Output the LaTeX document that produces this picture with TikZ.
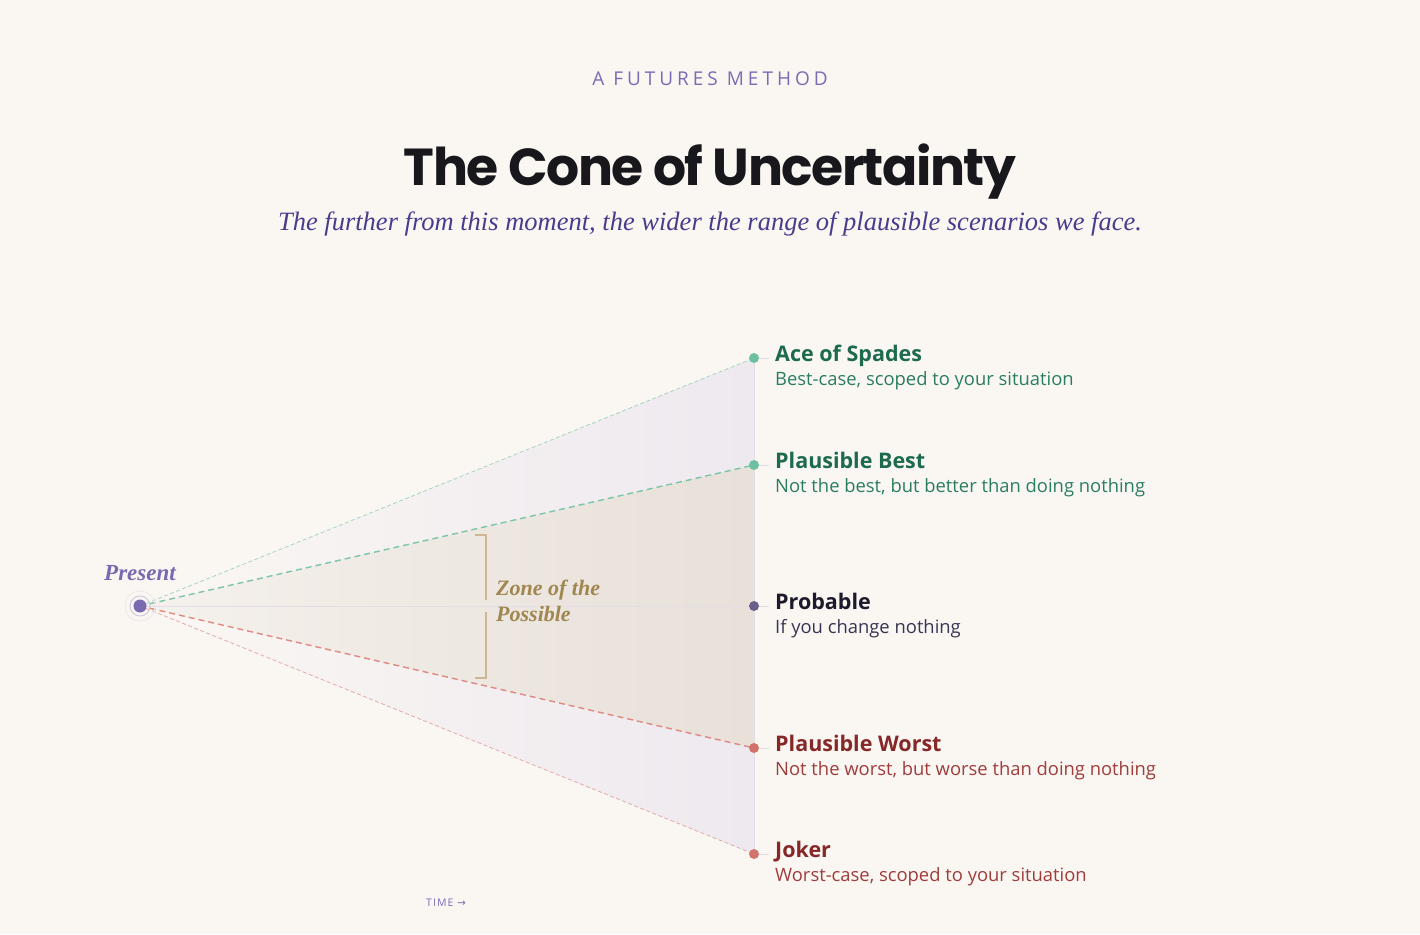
\documentclass[tikz,border=0pt]{standalone}
\usepackage{fontspec}
\setmainfont{Liberation Serif}
\setsansfont{Open Sans}
\newfontfamily\headfont{Poppins}
\newfontfamily\symfont{DejaVu Sans}
\usetikzlibrary{positioning}

\definecolor{bg}{HTML}{FAF7F3}
\definecolor{kicker}{HTML}{7B6BB5}
\definecolor{headink}{HTML}{18181C}
\definecolor{leadink}{HTML}{4A3C8C}
\definecolor{outercone}{HTML}{EEE9EF}
\definecolor{innerleft}{HTML}{F5F1EC}
\definecolor{innercone}{HTML}{E8E0D9}
\definecolor{spineline}{HTML}{E2DDE6}
\definecolor{greenfaint}{HTML}{A9D3C3}
\definecolor{greendash}{HTML}{7CC4AA}
\definecolor{redfaint}{HTML}{E2AAAA}
\definecolor{reddash}{HTML}{DE8A82}
\definecolor{dotgreen}{HTML}{6CBFA1}
\definecolor{dotpurple}{HTML}{6A5F8C}
\definecolor{dotred}{HTML}{D2736B}
\definecolor{acegreen}{HTML}{1D6A4D}
\definecolor{subgreen}{HTML}{2A7E5E}
\definecolor{probink}{HTML}{1E1A2C}
\definecolor{probsub}{HTML}{3A3452}
\definecolor{worstred}{HTML}{862828}
\definecolor{worstsub}{HTML}{A03C3C}
\definecolor{presentink}{HTML}{7A68B0}
\definecolor{zoneink}{HTML}{A0864F}
\definecolor{bracketline}{HTML}{CDB795}

\tikzset{
  dot/.style={circle, inner sep=0pt, minimum size=10pt},
  tickline/.style={draw=spineline, line width=1pt},
  scentitle/.style={anchor=base west, inner sep=0pt, font=\sffamily\bfseries\fontsize{21.5}{25}\selectfont},
  scensub/.style={anchor=base west, inner sep=0pt, font=\sffamily\fontsize{18.4}{21}\selectfont},
  faintdash/.style={line width=0.8pt, dash pattern=on 4pt off 2.5pt},
  maindash/.style={line width=1.4pt, dash pattern=on 6pt off 4pt},
  serifnote/.style={anchor=base west, inner sep=0pt, font=\bfseries\itshape\fontsize{22}{26}\selectfont},
}

\begin{document}
\begin{tikzpicture}[x=1pt, y=-1pt]
  % page
  \fill[bg] (0,0) rectangle (1420,934);
  \useasboundingbox (0,0) rectangle (1420,934);

  % heading
  \node[inner sep=0pt, anchor=base, text=kicker,
        font=\sffamily\fontsize{19}{22}\selectfont\addfontfeatures{LetterSpace=21}]
        (kicker) at (710,85) {A FUTURES METHOD};
  \node[inner sep=0pt, anchor=base, text=headink,
        font=\headfont\bfseries\fontsize{52}{60}\selectfont\addfontfeatures{LetterSpace=-2.9}]
        (heading) at (710,185) {The Cone of Uncertainty};
  \node[inner sep=0pt, anchor=base, text=leadink,
        font=\itshape\fontsize{26.5}{30}\selectfont]
        (lead) at (710,230) {The further from this moment, the wider the range of plausible scenarios we face.};

  % cone points
  \coordinate (present) at (140,606);
  \coordinate (ace) at (754,358);
  \coordinate (best) at (754,465);
  \coordinate (probable) at (754,606);
  \coordinate (worst) at (754,748);
  \coordinate (joker) at (754,854);

  % cones
  \shade[left color=bg, right color=outercone] (present) -- (ace) -- (joker) -- cycle;
  \shade[left color=innerleft, right color=innercone] (present) -- (best) -- (worst) -- cycle;
  \draw[spineline, line width=1pt] (ace) -- (joker);
  \draw[spineline, line width=0.8pt] (present) -- (probable);

  % scenario rays
  \draw[greenfaint, faintdash] (present) -- (ace);
  \draw[redfaint, faintdash] (present) -- (joker);
  \draw[greendash, maindash] (present) -- (best);
  \draw[reddash, maindash] (present) -- (worst);

  % present marker
  \draw[draw=spineline!70, line width=0.8pt] (present) circle (15);
  \draw[draw=presentink!35, line width=1pt] (present) circle (10);
  \node[dot, fill=presentink, minimum size=13pt] (presentdot) at (present) {};
  \node[serifnote, text=presentink, font=\bfseries\itshape\fontsize{23}{26}\selectfont]
        (presentlabel) at (104,580) {Present};

  % zone bracket
  \draw[bracketline, line width=1.2pt] (475,535) -- (486,535) -- (486,600);
  \draw[bracketline, line width=1.2pt] (486,612) -- (486,678) -- (475,678);
  \node[serifnote, text=zoneink] (zone1) at (496,595) {Zone of the};
  \node[serifnote, text=zoneink] (zone2) at (496,621) {Possible};

  % scenarios
  \foreach \nm/\yy/\dc/\tc/\sc/\ttl/\txt in {
      ace/358/dotgreen/acegreen/subgreen/{Ace of Spades}/{Best-case, scoped to your situation},
      best/465/dotgreen/acegreen/subgreen/{Plausible Best}/{Not the best, but better than doing nothing},
      probable/606/dotpurple/probink/probsub/{Probable}/{If you change nothing},
      worst/748/dotred/worstred/worstsub/{Plausible Worst}/{Not the worst, but worse than doing nothing},
      joker/854/dotred/worstred/worstsub/{Joker}/{Worst-case, scoped to your situation}} {
    \node[dot, fill=\dc] (\nm-dot) at (754,\yy) {};
    \draw[tickline] (\nm-dot.east) -- ++(10,0);
    \node[scentitle, text=\tc] (\nm-title) at (775,\yy+3) {\ttl};
    \node[scensub, text=\sc] (\nm-sub) at (775,\yy+27) {\txt};
  }

  % axis note
  \node[inner sep=0pt, anchor=base west, text=kicker,
        font=\sffamily\fontsize{10.5}{12}\selectfont\addfontfeatures{LetterSpace=10}]
        (time) at (426,906) {TIME {\symfont →}};
\end{tikzpicture}
\end{document}
